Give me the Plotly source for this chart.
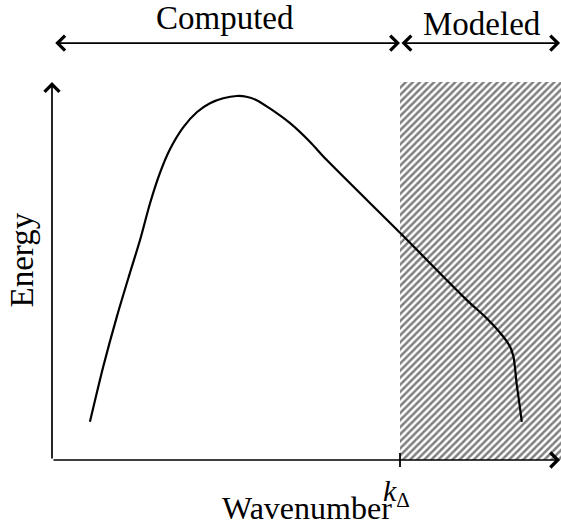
import plotly.graph_objects as go

# Energy spectrum (wavenumber scaled so k_delta = 1, energy scaled so the top of the model box = 1)
wavenumber = [0.109, 0.147, 0.186, 0.224, 0.253, 0.282, 0.310, 0.339, 0.377, 0.416,
              0.454, 0.492, 0.531, 0.559, 0.588, 0.626, 0.684, 0.741, 0.789, 1.000,
              1.192, 1.249, 1.297, 1.316, 1.326, 1.330, 1.335, 1.343, 1.350]
energy = [0.101, 0.246, 0.378, 0.495, 0.582, 0.680, 0.759, 0.822, 0.880, 0.920,
          0.944, 0.957, 0.963, 0.961, 0.952, 0.930, 0.891, 0.842, 0.794, 0.601,
          0.423, 0.375, 0.326, 0.300, 0.273, 0.247, 0.203, 0.150, 0.101]

k_delta = 1.0
k_max = 1.46
box_top = 1.0
band_y = 1.103
region_labels = ["Computed", "Modeled"]
x_label = "Wavenumber"
y_label = "Energy"
tick_label = "<i>k</i><sub>Δ</sub>"

x_range = [-0.1494, 1.4626]
y_range = [-0.1693, 1.2169]

FONT = "Liberation Serif"

fig = go.Figure()

# Modeled (hatched) region
fig.add_trace(go.Scatter(
    x=[k_delta, 1.5, 1.5, k_delta, k_delta],
    y=[0, 0, box_top, box_top, 0],
    mode="lines", fill="toself", line=dict(width=0),
    fillcolor="rgba(0,0,0,0)",
    fillpattern=dict(shape="/", size=5, solidity=0.5, fgcolor="black", bgcolor="white"),
    hoverinfo="skip", showlegend=False,
))

# Spectrum curve
fig.add_trace(go.Scatter(
    x=wavenumber, y=energy, mode="lines",
    line=dict(color="black", width=2.2, shape="spline", smoothing=0.8),
    showlegend=False,
))

annotations = []

def arrow(x0, y0, x1, y1, both=False):
    d = dict(x=x1, y=y1, ax=x0, ay=y0, xref="x", yref="y", axref="x", ayref="y",
             text="", showarrow=True, arrowhead=4, arrowsize=1.7, arrowwidth=1.7,
             arrowcolor="black", standoff=0, startstandoff=0)
    if both:
        d.update(arrowside="end+start", startarrowhead=4, startarrowsize=1.7)
    annotations.append(d)

# axes
arrow(0, 0, 0, box_top)
arrow(0, 0, k_max, 0)
# top bands
arrow(0.005, band_y, k_delta, band_y, both=True)
arrow(k_delta, band_y, k_max, band_y, both=True)

annotations.append(dict(x=0.497, y=1.170, xref="x", yref="y", text=region_labels[0],
                        showarrow=False, font=dict(family=FONT, size=33, color="black")))
annotations.append(dict(x=1.236, y=1.154, xref="x", yref="y", text=region_labels[1],
                        showarrow=False, font=dict(family=FONT, size=33, color="black")))
annotations.append(dict(x=0.734, y=-0.127, xref="x", yref="y", text=x_label,
                        showarrow=False, font=dict(family=FONT, size=32, color="black")))
annotations.append(dict(x=-0.085, y=0.529, xref="x", yref="y", text=y_label, textangle=-90,
                        showarrow=False, font=dict(family=FONT, size=33, color="black")))
annotations.append(dict(x=0.99, y=-0.088, xref="x", yref="y", text=tick_label,
                        showarrow=False, font=dict(family=FONT, size=30, color="black")))

fig.update_layout(
    width=561, height=524, autosize=False,
    margin=dict(l=0, r=0, t=0, b=0),
    paper_bgcolor="white", plot_bgcolor="white",
    xaxis=dict(range=x_range, visible=False, fixedrange=True),
    yaxis=dict(range=y_range, visible=False, fixedrange=True),
    annotations=annotations,
    shapes=[dict(type="line", xref="x", yref="y", x0=k_delta, x1=k_delta, y0=-0.0185, y1=0.0185,
                 line=dict(color="black", width=1.8), layer="above")],
    showlegend=False,
)

fig.write_html("out.html", config={"displayModeBar": False},
               post_script="document.body.style.margin='0';document.body.style.overflow='hidden';")
